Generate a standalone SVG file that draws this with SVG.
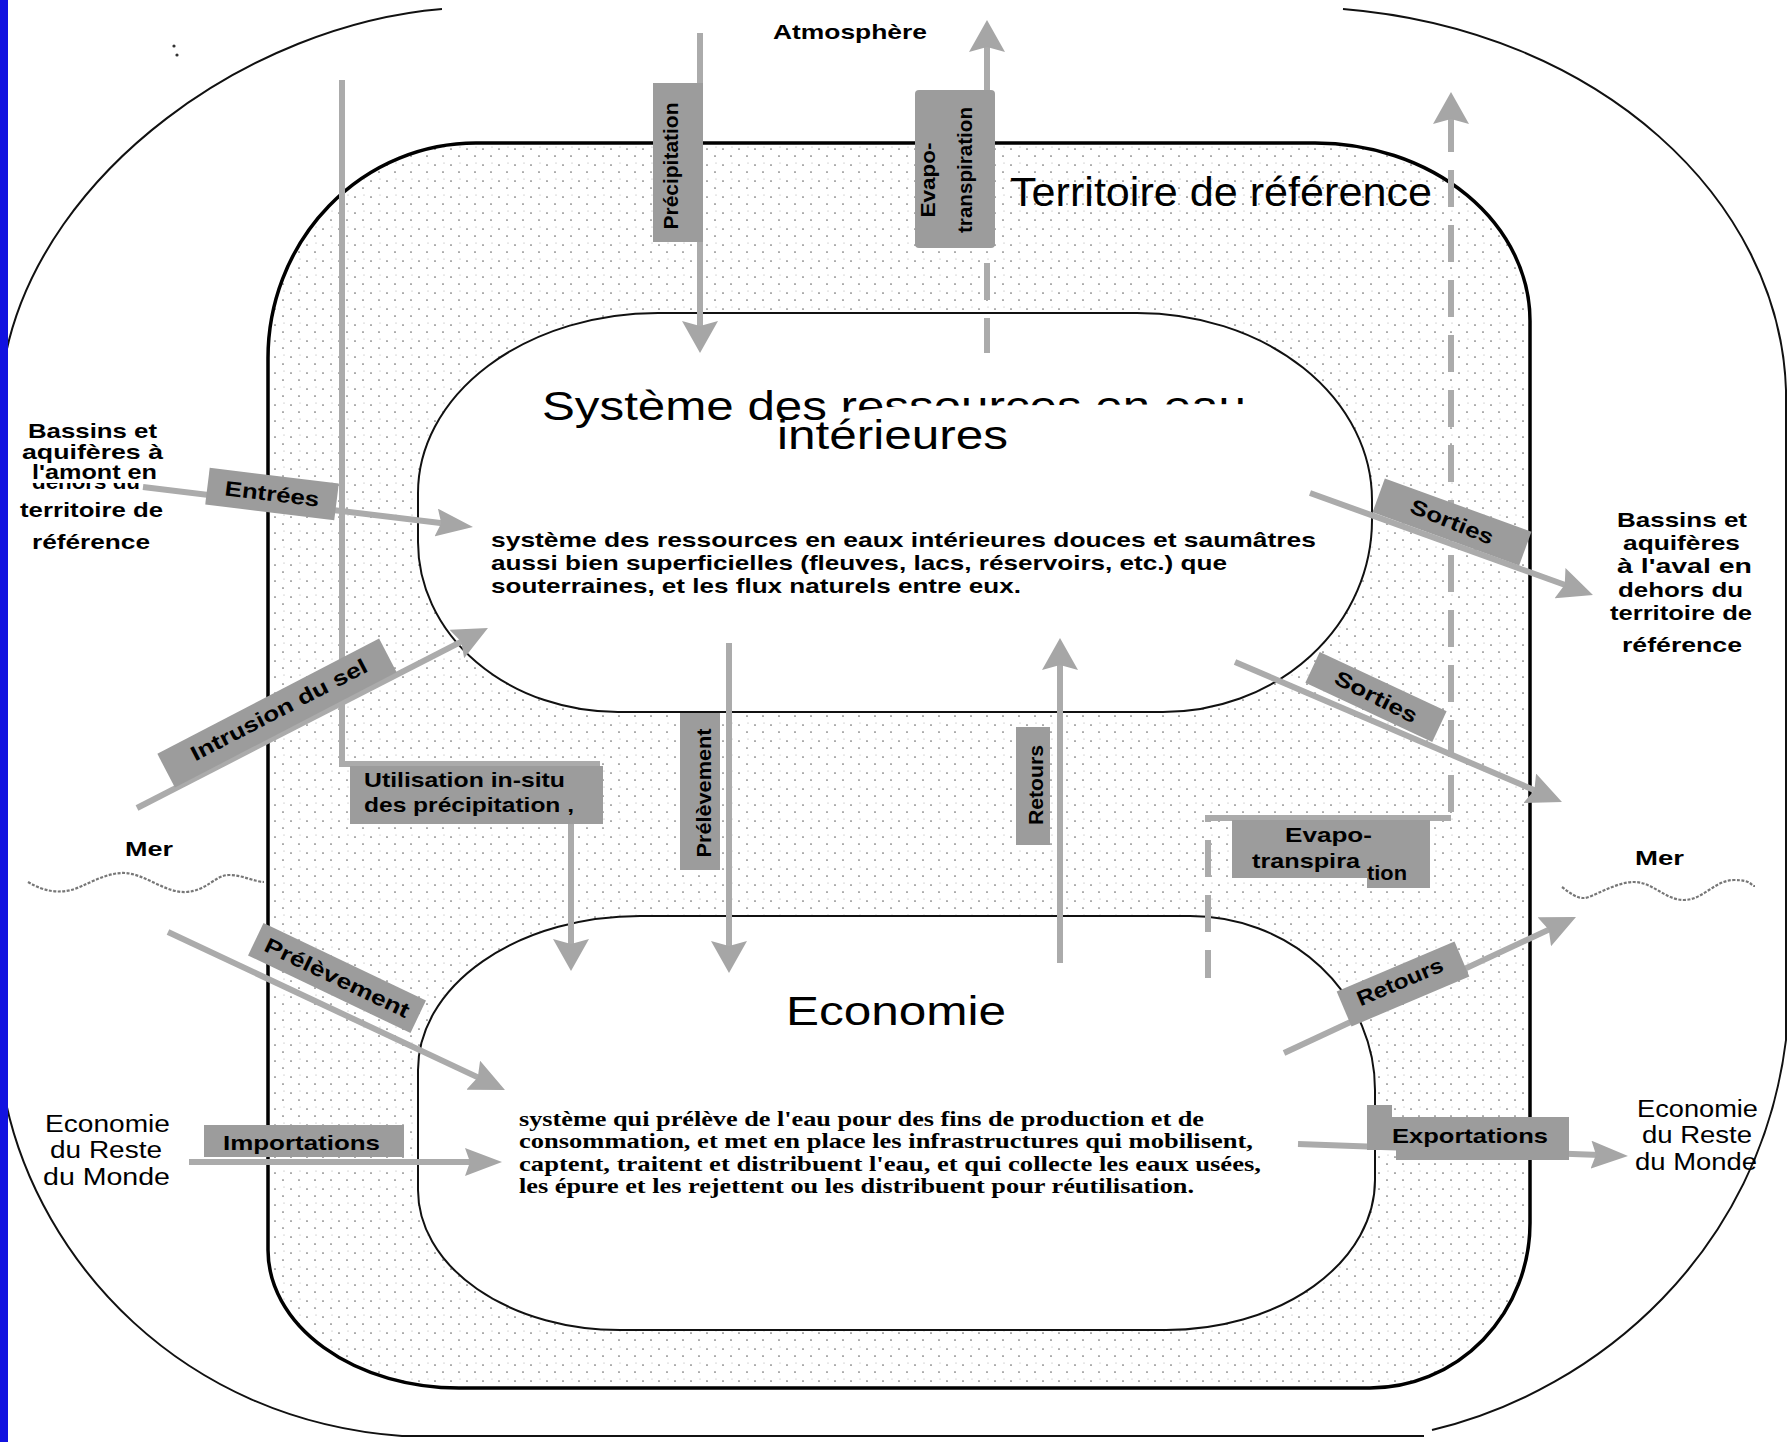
<svg xmlns="http://www.w3.org/2000/svg" width="1790" height="1442" viewBox="0 0 1790 1442">
<defs>
<style>
.sh{fill:none;stroke:#ababab;stroke-width:6}
.dash{stroke-dasharray:37 18}
.bx{fill:#9c9c9c}
.lb{font-family:"Liberation Sans",Arial,sans-serif;font-weight:bold;font-size:21px;fill:#000}
.rg{font-family:"Liberation Sans",Arial,sans-serif;font-size:23px;fill:#000}
.ttl{font-family:"Liberation Sans",Arial,sans-serif;font-size:40px;fill:#000}
.ds{font-family:"Liberation Sans",Arial,sans-serif;font-weight:bold;font-size:21px;fill:#000}
.tm{font-family:"Liberation Serif","Times New Roman",serif;font-weight:bold;font-size:21px;fill:#000}
.line{fill:none;stroke:#111;stroke-width:2}
.wave{fill:none;stroke:#777;stroke-width:2.2;stroke-dasharray:3 1.5}
</style>
<pattern id="stip" width="16" height="16" patternUnits="userSpaceOnUse">
<rect width="16" height="16" fill="#fff"/>
<circle cx="3" cy="5" r="0.85" fill="#6a6a6a"/>
<circle cx="11" cy="12" r="0.85" fill="#6a6a6a"/>
<circle cx="12" cy="3" r="0.6" fill="#aaa"/>
</pattern>
<marker id="hv" markerUnits="userSpaceOnUse" viewBox="0 0 32 36" markerWidth="32" markerHeight="36" refX="18" refY="18" orient="auto"><path d="M0,0 L32,18 L0,36 L5,18 Z" fill="#a6a6a6"/></marker>
<marker id="hh" markerUnits="userSpaceOnUse" viewBox="0 0 37 28" markerWidth="37" markerHeight="28" refX="23" refY="14" orient="auto"><path d="M0,0 L37,14 L0,28 L5,14 Z" fill="#a6a6a6"/></marker>
<marker id="hd" markerUnits="userSpaceOnUse" viewBox="0 0 35 32" markerWidth="35" markerHeight="32" refX="21" refY="16" orient="auto"><path d="M0,0 L35,16 L0,32 L5,16 Z" fill="#a6a6a6"/></marker>
</defs>
<rect width="1790" height="1442" fill="#fff"/>

<g id="monde">
<path class="line" d="M442,9 C250,25 45,170 6,353 L-30,700 L6,1103 C40,1260 180,1420 402,1436 L1424,1436 M1432,1430 C1600,1390 1760,1250 1786,1040 L1786,390 C1780,200 1600,30 1343,9"/>
<circle cx="174" cy="46" r="1.6" fill="#333"/>
<circle cx="177" cy="55" r="1.6" fill="#333"/>
</g>

<g id="territoire">
<path d="M476,143 L1315,143 A215,178 0 0 1 1530,321 L1530,1223 A160,165 0 0 1 1370,1388 L459,1388 A191,138 0 0 1 268,1250 L268,358 A208,215 0 0 1 476,143 Z" fill="url(#stip)" stroke="#000" stroke-width="3.5"/>
<text class="ttl" x="1010" y="206" font-size="38" textLength="422" lengthAdjust="spacingAndGlyphs">Territoire de référence</text>
</g>

<g id="ressources">
<path d="M658,313 L1137,313 A235,187 0 0 1 1372,500 L1372,520 A209,192 0 0 1 1163,712 L618,712 A200,170 0 0 1 418,542 L418,493 A240,180 0 0 1 658,313 Z" fill="#fff" stroke="#111" stroke-width="2"/>
<text class="ttl" x="542" y="420" textLength="704" lengthAdjust="spacingAndGlyphs">Système des ressources en eau</text>
<polygon points="835,413 900,406 1255,404 1255,424 835,424" fill="#fff"/>
<text class="ttl" x="777" y="449" textLength="231" lengthAdjust="spacingAndGlyphs">intérieures</text>
<text class="ds" x="491" y="547" textLength="825" lengthAdjust="spacingAndGlyphs">système des ressources en eaux intérieures douces et saumâtres</text>
<text class="ds" x="491" y="570" textLength="736" lengthAdjust="spacingAndGlyphs">aussi bien superficielles (fleuves, lacs, réservoirs, etc.) que</text>
<text class="ds" x="491" y="593" textLength="530" lengthAdjust="spacingAndGlyphs">souterraines, et les flux naturels entre eux.</text>
</g>

<g id="economie">
<path d="M640,916 L1190,916 A185,174 0 0 1 1375,1090 L1375,1180 A209,150 0 0 1 1166,1330 L620,1330 A202,140 0 0 1 418,1190 L418,1070 A222,154 0 0 1 640,916 Z" fill="#fff" stroke="#111" stroke-width="2"/>
<text class="ttl" x="786" y="1025" textLength="220" lengthAdjust="spacingAndGlyphs">Economie</text>
<text class="tm" x="519" y="1126" textLength="685" lengthAdjust="spacingAndGlyphs">système qui prélève de l'eau pour des fins de production et de</text>
<text class="tm" x="519" y="1148" textLength="734" lengthAdjust="spacingAndGlyphs">consommation, et met en place les infrastructures qui mobilisent,</text>
<text class="tm" x="519" y="1171" textLength="742" lengthAdjust="spacingAndGlyphs">captent, traitent et distribuent l'eau, et qui collecte les eaux usées,</text>
<text class="tm" x="519" y="1193" textLength="675" lengthAdjust="spacingAndGlyphs">les épure et les rejettent ou les distribuent pour réutilisation.</text>
</g>

<g id="atmosphere">
<text class="lb" x="773" y="39" font-size="22" textLength="154" lengthAdjust="spacingAndGlyphs">Atmosphère</text>
</g>

<g id="amont">
<text class="lb" x="28" y="438" textLength="129" lengthAdjust="spacingAndGlyphs">Bassins et</text>
<text class="lb" x="22" y="459" textLength="141" lengthAdjust="spacingAndGlyphs">aquifères à</text>
<text class="lb" x="32" y="489" textLength="108" lengthAdjust="spacingAndGlyphs">dehors du</text>
<rect x="18" y="466" width="128" height="17" fill="#fff"/>
<text class="lb" x="32" y="479" textLength="125" lengthAdjust="spacingAndGlyphs">l'amont en</text>
<text class="lb" x="20" y="517" textLength="143" lengthAdjust="spacingAndGlyphs">territoire de</text>
<text class="lb" x="32" y="549" textLength="118" lengthAdjust="spacingAndGlyphs">référence</text>
</g>

<g id="aval">
<text class="lb" x="1617" y="527" textLength="130" lengthAdjust="spacingAndGlyphs">Bassins et</text>
<text class="lb" x="1623" y="550" textLength="117" lengthAdjust="spacingAndGlyphs">aquifères</text>
<text class="lb" x="1617" y="573" textLength="135" lengthAdjust="spacingAndGlyphs">à l'aval  en</text>
<text class="lb" x="1618" y="597" textLength="125" lengthAdjust="spacingAndGlyphs">dehors du</text>
<text class="lb" x="1610" y="620" textLength="142" lengthAdjust="spacingAndGlyphs">territoire de</text>
<text class="lb" x="1622" y="652" textLength="120" lengthAdjust="spacingAndGlyphs">référence</text>
</g>

<g id="mer-gauche">
<text class="lb" x="125" y="856" font-size="22" textLength="48" lengthAdjust="spacingAndGlyphs">Mer</text>
<path class="wave" d="M28,882 C45,892 58,893 71,890 S105,872 125,873 S165,893 186,892 S215,875 229,875 S255,882 264,882"/>
</g>

<g id="mer-droite">
<text class="lb" x="1635" y="865" font-size="22" textLength="49" lengthAdjust="spacingAndGlyphs">Mer</text>
<path class="wave" d="M1562,887 C1570,893 1576,898 1584,898 S1615,882 1634,882 S1665,900 1684,900 S1715,880 1734,880 S1750,886 1755,886"/>
</g>

<g id="rdm-gauche">
<text class="rg" x="45" y="1132" textLength="125" lengthAdjust="spacingAndGlyphs">Economie</text>
<text class="rg" x="50" y="1158" textLength="112" lengthAdjust="spacingAndGlyphs">du Reste</text>
<text class="rg" x="43" y="1185" textLength="127" lengthAdjust="spacingAndGlyphs">du Monde</text>
</g>

<g id="rdm-droite">
<text class="rg" x="1637" y="1117" textLength="121" lengthAdjust="spacingAndGlyphs">Economie</text>
<text class="rg" x="1642" y="1143" textLength="110" lengthAdjust="spacingAndGlyphs">du Reste</text>
<text class="rg" x="1635" y="1170" textLength="122" lengthAdjust="spacingAndGlyphs">du Monde</text>
</g>

<g id="connectors">
<line class="sh" x1="700" y1="33" x2="700" y2="339" marker-end="url(#hv)"/>
<line class="sh" x1="987" y1="92" x2="987" y2="34" marker-end="url(#hv)"/>
<line class="sh" x1="987" y1="263" x2="987" y2="300"/>
<line class="sh" x1="987" y1="318" x2="987" y2="353"/>
<line class="sh dash" x1="1451" y1="812" x2="1451" y2="106" marker-end="url(#hv)"/>
<line class="sh" x1="1205" y1="818" x2="1451" y2="818"/>
<line class="sh dash" x1="1208" y1="818" x2="1208" y2="978" stroke-dashoffset="33"/>
<line class="sh" x1="1310" y1="493" x2="1579.8" y2="590.3" marker-end="url(#hd)"/>
<line class="sh" x1="1235" y1="662" x2="1549.1" y2="796.5" marker-end="url(#hd)"/>
<line class="sh" x1="143" y1="487" x2="459.1" y2="525.3" marker-end="url(#hh)"/>
<line class="sh" x1="137" y1="808" x2="475.5" y2="634.4" marker-end="url(#hd)"/>
<line class="sh" x1="168" y1="932" x2="492.3" y2="1084.1" marker-end="url(#hd)"/>
<line class="sh" x1="189" y1="1162" x2="488" y2="1162" marker-end="url(#hh)"/>
<line class="sh" x1="1298" y1="1144" x2="1614" y2="1155.5" marker-end="url(#hh)"/>
<line class="sh" x1="1284" y1="1053" x2="1563.3" y2="922.9" marker-end="url(#hd)"/>
<line class="sh" x1="1060" y1="963" x2="1060" y2="652" marker-end="url(#hv)"/>
<line class="sh" x1="729" y1="643" x2="729" y2="959" marker-end="url(#hv)"/>
<polyline class="sh" points="342,80 342,764 600,764"/>
<line class="sh" x1="571" y1="824" x2="571" y2="957" marker-end="url(#hv)"/>

<rect class="bx" x="653" y="83" width="50" height="159"/>
<rect class="bx" x="915" y="90" width="80" height="158" rx="4"/>
<rect class="bx" x="1016" y="727" width="34" height="118"/>
<rect class="bx" x="680" y="713" width="40" height="157"/>
<rect class="bx" x="350" y="766" width="253" height="58"/>
<rect class="bx" x="204" y="1125" width="200" height="32"/>
<polygon class="bx" points="1367,1105 1392,1105 1392,1117 1569,1117 1569,1160 1396,1160 1396,1150 1367,1150"/>
<polygon class="bx" points="1232,820 1430,820 1430,888 1367,888 1367,878 1232,878"/>
<rect class="bx" x="-65" y="-18.5" width="130" height="37" transform="translate(272,494) rotate(7)"/>
<rect class="bx" x="-125" y="-19" width="250" height="38" transform="translate(277,713) rotate(-27.5)"/>
<rect class="bx" x="-90" y="-18" width="180" height="36" transform="translate(337,978) rotate(25.5)"/>
<rect class="bx" x="-78" y="-18" width="156" height="36" transform="translate(1452,522) rotate(20)"/>
<rect class="bx" x="-70" y="-17" width="140" height="34" transform="translate(1376,697) rotate(25)"/>
<rect class="bx" x="-64" y="-19" width="128" height="38" transform="translate(1403,984) rotate(-23)"/>

<text class="lb" transform="translate(678,166) rotate(-90)" text-anchor="middle" textLength="127" lengthAdjust="spacingAndGlyphs">Précipitation</text>
<text class="lb" font-size="20" transform="translate(935,180) rotate(-90)" text-anchor="middle" textLength="75" lengthAdjust="spacingAndGlyphs">Evapo-</text>
<text class="lb" font-size="20" transform="translate(972,170) rotate(-90)" text-anchor="middle" textLength="126" lengthAdjust="spacingAndGlyphs">transpiration</text>
<text class="lb" transform="translate(1043,785) rotate(-90)" text-anchor="middle" textLength="80" lengthAdjust="spacingAndGlyphs">Retours</text>
<text class="lb" transform="translate(711,793) rotate(-90)" text-anchor="middle" textLength="129" lengthAdjust="spacingAndGlyphs">Prélèvement</text>
<text class="lb" x="364" y="787" textLength="201" lengthAdjust="spacingAndGlyphs">Utilisation in-situ</text>
<text class="lb" x="364" y="812" textLength="210" lengthAdjust="spacingAndGlyphs">des précipitation ,</text>
<text class="lb" x="223" y="1150" textLength="157" lengthAdjust="spacingAndGlyphs">Importations</text>
<text class="lb" x="1392" y="1143" textLength="156" lengthAdjust="spacingAndGlyphs">Exportations</text>
<text class="lb" x="1285" y="842" textLength="87" lengthAdjust="spacingAndGlyphs">Evapo-</text>
<text class="lb" x="1252" y="868" textLength="108" lengthAdjust="spacingAndGlyphs">transpira</text>
<text class="lb" x="1367" y="880" textLength="40" lengthAdjust="spacingAndGlyphs">tion</text>
<text class="lb" transform="translate(272,494) rotate(7)" x="0" y="7" text-anchor="middle" textLength="95" lengthAdjust="spacingAndGlyphs">Entrées</text>
<text class="lb" transform="translate(279,710) rotate(-27.5)" x="0" y="7" text-anchor="middle" textLength="196" lengthAdjust="spacingAndGlyphs">Intrusion du sel</text>
<text class="lb" transform="translate(337,978) rotate(25.5)" x="0" y="7" text-anchor="middle" textLength="158" lengthAdjust="spacingAndGlyphs">Prélèvement</text>
<text class="lb" transform="translate(1452,522) rotate(22)" x="0" y="7" text-anchor="middle" textLength="88" lengthAdjust="spacingAndGlyphs">Sorties</text>
<text class="lb" transform="translate(1376,697) rotate(27)" x="0" y="7" text-anchor="middle" textLength="90" lengthAdjust="spacingAndGlyphs">Sorties</text>
<text class="lb" transform="translate(1400,982) rotate(-23)" x="0" y="7" text-anchor="middle" textLength="92" lengthAdjust="spacingAndGlyphs">Retours</text>
</g>

<rect id="bord" x="0" y="0" width="8" height="1442" fill="#1212e0"/>
</svg>
